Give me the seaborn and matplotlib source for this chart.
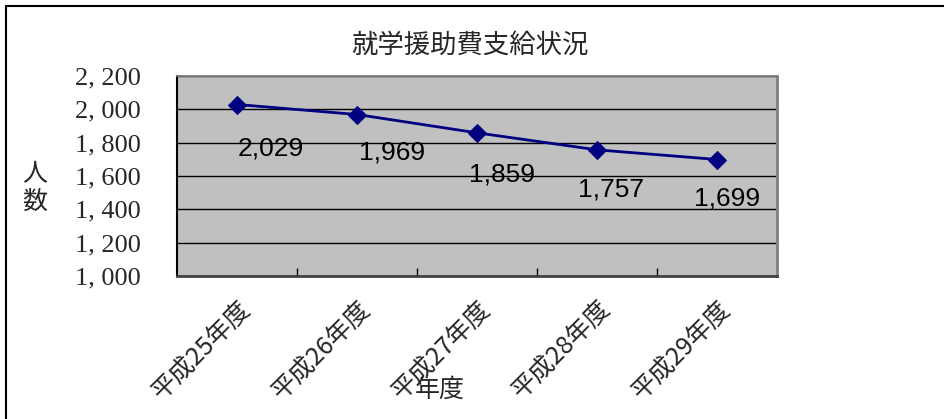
import numpy as np
import pandas as pd
import matplotlib.pyplot as plt
import matplotlib.ticker as mticker
from matplotlib.lines import Line2D
import seaborn as sns

# data
years = ['平成25年度', '平成26年度', '平成27年度', '平成28年度', '平成29年度']
counts = [2029, 1969, 1859, 1757, 1699]
# label offsets (px) relative to each point, as placed in the original
label_dx = [34, 35, 25, 14, 10]
label_dy = [-44, -38, -42, -40, -39]

df = pd.DataFrame({'year': years, 'count': counts})

sns.set_theme(style='white')
plt.rcParams['font.family'] = ['Noto Sans CJK JP', 'DejaVu Sans']

fig = plt.figure(figsize=(9.44, 4.19), dpi=100)
ax = fig.add_axes([177 / 944, 1 - 276 / 419, 600 / 944, 200 / 419])
ax.set_facecolor('#c0c0c0')

sns.lineplot(data=df, x='year', y='count', ax=ax, color='#000080',
             marker='D', markersize=9, linewidth=2, markeredgecolor='#000080',
             sort=False)

ax.set_xlim(-0.5, 4.5)
ax.set_ylim(1000, 2200)
ax.yaxis.set_major_locator(mticker.MultipleLocator(200))
ax.yaxis.set_major_formatter(mticker.FuncFormatter(lambda v, p: f'{int(v):,}'.replace(',', ', ')))
ax.grid(axis='y', color='black', linewidth=1)
ax.grid(axis='x', visible=False)

ax.set_xticks(range(len(years)))
ax.set_xticklabels(years, rotation=45, ha='right', rotation_mode='anchor',
                   fontsize=18, family=['Noto Sans CJK JP'])
ax.xaxis.set_minor_locator(mticker.FixedLocator(np.arange(0.5, 4, 1)))
ax.tick_params(axis='x', which='major', length=0, pad=14)
ax.tick_params(axis='x', which='minor', direction='in', length=6, color='black', width=1, bottom=True)
ax.tick_params(axis='y', length=0, pad=26)
for lab in ax.get_yticklabels():
    lab.set_family(['Liberation Serif'])
    lab.set_fontsize(19)
ax.set_xlabel('')
ax.set_ylabel('')

ax.spines['left'].set_color('black')
ax.spines['left'].set_linewidth(1.5)
ax.spines['bottom'].set_color('#404040')
ax.spines['bottom'].set_linewidth(2)
ax.spines['top'].set_color('#808080')
ax.spines['right'].set_color('#808080')
ax.spines['right'].set_linewidth(2)

for i, v in enumerate(counts):
    ax.annotate(f'{v:,}', (i, v), xytext=(label_dx[i] * 0.72, label_dy[i] * 0.72),
                textcoords='offset points', ha='center', va='center',
                fontsize=19, family=['Liberation Sans'], color='black')

fig.text(470 / 944, 1 - 45 / 419, '就学援助費支給状況', ha='center', va='center', fontsize=19)
fig.text(35 / 944, 1 - 188 / 419, '人\n数', ha='center', va='center', fontsize=18, linespacing=1.05)
fig.text(440 / 944, 1 - 390 / 419, '年度', ha='center', va='center', fontsize=18)

# outer chart frame (top and left edges visible)
fig.add_artist(Line2D([6 / 944, 1], [1 - 6 / 419, 1 - 6 / 419], color='black', linewidth=1.5, transform=fig.transFigure))
fig.add_artist(Line2D([6 / 944, 6 / 944], [0, 1 - 6 / 419], color='black', linewidth=1.5, transform=fig.transFigure))

fig.savefig('out.png', dpi=100)
